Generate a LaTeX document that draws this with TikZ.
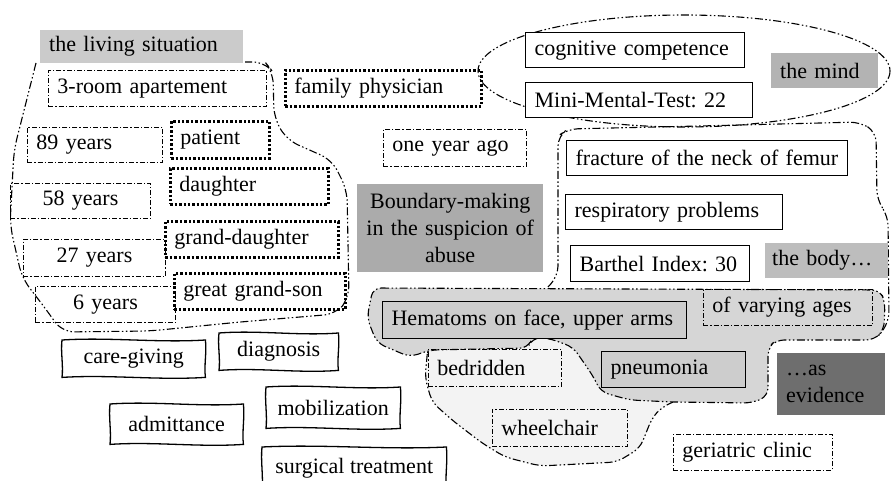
\documentclass[tikz,border=0pt]{standalone}
\usepackage{fontspec}
\setmainfont{Liberation Serif}
\frenchspacing
\definecolor{lsit}{HTML}{CBCBCB}
\definecolor{mindc}{HTML}{B3B3B3}
\definecolor{bodyc}{HTML}{BDBDBD}
\definecolor{boundc}{HTML}{ABABAB}
\definecolor{evid}{HTML}{6E6E6E}
\definecolor{grayreg}{HTML}{D6D6D6}
\definecolor{lightreg}{HTML}{F3F3F3}
\definecolor{hembox}{HTML}{CDCDCD}
\tikzset{
  every node/.style={font=\fontsize{22}{27}\selectfont\frenchspacing, text=black},
  solidbox/.style={draw=black, line width=1.2pt},
  dotbox/.style={draw=black, line width=2.6pt, dash pattern=on 2.4pt off 2pt},
  ddbox/.style={draw=black, line width=0.9pt, dash pattern=on 5pt off 2pt on 1.2pt off 2pt},
  regionline/.style={draw=black, line width=1.1pt, dash pattern=on 8pt off 2.5pt on 1.5pt off 2.5pt on 1.5pt off 2.5pt},
  wavy/.style={draw=black, line width=1.3pt},
}
\newcommand\mybox[8]{%
  \pgfmathsetmacro\myBW{#5-#3}%
  \pgfmathsetmacro\myBH{#6-#4}%
  \pgfmathsetmacro\myTW{#5-#3-18}%
  \node[#1, anchor=north west, minimum width=\myBW pt, minimum height=\myBH pt,
        text width=\myTW pt, align=#7, inner xsep=9pt, inner ysep=0pt] (#2) at (#3,#4) {#8};}
\newcommand\wbox[6]{%
  \pgfmathsetmacro\myBW{#4-#2}%
  \pgfmathsetmacro\myBH{#5-#3}%
  \pgfmathsetmacro\myCW{(#4-#2)/3}%
  \pgfmathsetmacro\myCH{(#5-#3)/3}%
  \node[anchor=north west, minimum width=\myBW pt, minimum height=\myBH pt, inner sep=0pt] (#1) at (#2,#3) {#6};
  \draw[wavy] (#1.north west) .. controls +(\myCW pt,3pt) and +(-\myCW pt,-3pt) .. (#1.north east)
     .. controls +(1.5pt,-\myCH pt) and +(-1.5pt,\myCH pt) .. (#1.south east)
     .. controls +(-\myCW pt,-3pt) and +(\myCW pt,3pt) .. (#1.south west)
     .. controls +(1.5pt,\myCH pt) and +(-1.5pt,-\myCH pt) .. (#1.north west) -- cycle;}
\begin{document}
\begin{tikzpicture}[x=1pt,y=-1pt]
\clip (0,0) rectangle (891,481);
\fill[white] (0,0) rectangle (891,481);

% regions
\draw[regionline, rounded corners=12pt] (36,63) -- (14,150) -- (10,225) -- (22,278) -- (48,312) -- (62,332) -- (150,331) -- (240,322) -- (336,314) -- (349,298) -- (347,190) -- (332,160) -- (287,140) -- (274,118) -- (273,72) -- (265,62) -- (245,62);

\draw[regionline] (684,71) ellipse [x radius=206, y radius=56];

\draw[regionline, rounded corners=10pt] (548,287) -- (558,276) -- (558,136) -- (568,129) -- (700,126) -- (860,122) -- (876,132) -- (877,200) -- (888,216) -- (889,322) -- (880,334);

\draw[regionline, fill=lightreg, rounded corners=8pt] (428,346) -- (425,378) -- (432,402) -- (452,420) -- (482,443) -- (505,457) -- (540,466) -- (617,462) -- (640,448) -- (652,418) -- (662,407) -- (680,399) -- (600,375) -- (580,352) -- (560,334) -- (535,332) -- (520,343) -- cycle;

\draw[regionline, fill=grayreg, rounded corners=8pt] (373,288) -- (880,290) -- (885,302) -- (884,330) -- (874,340) -- (776,340) -- (768,348) -- (768,396) -- (752,403) -- (673,402) -- (630,400) -- (601,392) -- (593,376) -- (573,347) -- (548,338) -- (532,338) -- (528,348) -- (430,350) -- (410,357) -- (377,343) -- (367,318) -- cycle;

% living situation
\mybox{fill=lsit}{living}{40}{30}{243}{63}{left}{the living situation}
\mybox{ddbox}{apart}{48}{70}{266}{106}{left}{3-room apartement}
\mybox{dotbox}{famphys}{284}{69}{480}{105}{left}{family physician}
\mybox{ddbox}{y89}{27}{127}{162}{162}{left}{89 years}
\mybox{dotbox}{patient}{170}{120}{268}{157}{left}{patient}
\mybox{dotbox}{daughter}{169}{167}{327}{203}{left}{daughter}
\mybox{ddbox}{y58}{10}{183}{150}{218}{center}{58 years}
\mybox{dotbox}{granddaughter}{164}{220}{337}{256}{left}{grand-daughter}
\mybox{ddbox}{y27}{23}{239}{165}{276}{center}{27 years}
\mybox{dotbox}{greatgrandson}{173}{272}{344}{308}{left}{great grand-son}
\mybox{ddbox}{y6}{35}{286}{175}{322}{center}{6 years}
\mybox{ddbox}{oneyear}{383}{129}{526}{166}{left}{one year ago}

% centre
\node[fill=boundc, anchor=north west, minimum width=186pt, minimum height=88pt, text width=178pt, align=center, inner xsep=4pt, inner ysep=0pt] (boundary) at (357,184) {Boundary-making\\in the suspicion of\\abuse};

% mind
\mybox{solidbox, fill=white}{cognitive}{525}{32}{744}{67}{left}{cognitive competence}
\mybox{solidbox, fill=white}{mmt}{525}{82}{752}{117}{left}{Mini-Mental-Test: 22}
\mybox{fill=mindc}{mind}{771}{53}{878}{88}{left}{the mind}

% body
\mybox{solidbox}{fracture}{566}{140}{847}{175}{left}{fracture of the neck of femur}
\mybox{solidbox}{respir}{565}{194}{782}{229}{left}{respiratory problems}
\mybox{solidbox}{barthel}{570}{245}{749}{281}{left}{Barthel Index: 30}
\node[fill=bodyc, anchor=north west, minimum width=123pt, minimum height=35pt, text width=109pt, align=left, inner xsep=7pt, inner ysep=0pt] (body) at (765,243) {the body…};

% evidence
\mybox{solidbox, fill=hembox}{hematoms}{382}{301}{686}{338}{left}{Hematoms on face, upper arms}
\mybox{ddbox}{varying}{703}{289}{872}{325}{left}{of varying ages}
\mybox{solidbox, fill=hembox}{pneumonia}{601}{351}{745}{387}{left}{pneumonia}
\mybox{fill=evid}{evidence}{777}{353}{885}{415}{left}{…as\\evidence}
\mybox{ddbox}{bedridden}{428}{349}{561}{386}{left}{bedridden}
\mybox{ddbox}{wheelchair}{492}{409}{627}{446}{left}{wheelchair}
\mybox{ddbox}{geriatric}{673}{434}{832}{470}{left}{geriatric clinic}

% wavy boxes
\wbox{caregiving}{62}{340}{205}{377}{care-giving}
\wbox{diagnosis}{219}{333}{338}{370}{diagnosis}
\wbox{admittance}{110}{404}{243}{444}{admittance}
\wbox{mobilization}{266}{387}{400}{428}{mobilization}
\wbox{surgical}{262}{447}{446}{490}{surgical treatment}
\end{tikzpicture}
\end{document}
